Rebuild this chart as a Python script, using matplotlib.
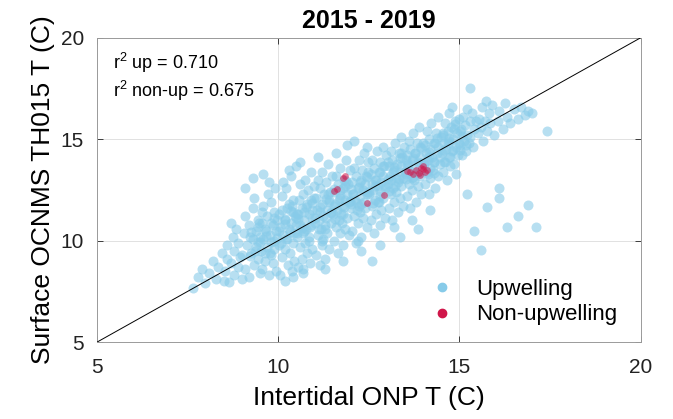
import numpy as np
import matplotlib
matplotlib.use("Agg")
import matplotlib.pyplot as plt
from matplotlib.lines import Line2D

plt.rcParams['font.family'] = ['Liberation Sans', 'DejaVu Sans']
plt.rcParams['mathtext.default'] = 'regular'

# Upwelling days (strips of intertidal T)
up_x = [
    7.66, 7.8, 7.9, 8.0, 8.1, 8.2, 8.3, 8.35, 8.45, 8.5,
    8.55, 8.6, 8.6, 8.65, 8.7, 8.75, 8.8, 8.8, 8.85, 8.9, 8.9, 8.95, 9.0, 8.7,
    9.02, 9.05, 9.1, 9.1, 9.15, 9.2, 9.2, 9.25, 9.3, 9.3, 9.35, 9.35, 9.4, 9.4, 9.45, 9.45, 9.5, 9.5, 9.1, 9.3,
    9.52, 9.55, 9.55, 9.6, 9.6, 9.65, 9.65, 9.7, 9.7, 9.72, 9.75, 9.78, 9.8, 9.8, 9.85, 9.85, 9.88, 9.9, 9.9, 9.92, 9.95, 9.95, 9.98, 9.6, 9.75, 9.55,
    10.02, 10.05, 10.05, 10.1, 10.1, 10.12, 10.15, 10.18, 10.2, 10.2, 10.22, 10.25, 10.28, 10.3, 10.3, 10.32, 10.35, 10.35, 10.38, 10.4, 10.4, 10.42, 10.45, 10.45, 10.48, 10.5, 10.3, 10.15, 10.4, 10.25,
    10.52, 10.55, 10.55, 10.58, 10.6, 10.6, 10.62, 10.65, 10.65, 10.68, 10.7, 10.7, 10.72, 10.75, 10.75, 10.78, 10.8, 10.8, 10.82, 10.85, 10.85, 10.88, 10.9, 10.9, 10.92, 10.95, 10.95, 10.98, 10.6, 10.7, 10.85, 10.5,
    11.02, 11.05, 11.05, 11.08, 11.1, 11.1, 11.12, 11.15, 11.15, 11.18, 11.2, 11.2, 11.22, 11.25, 11.25, 11.28, 11.3, 11.3, 11.32, 11.35, 11.35, 11.38, 11.4, 11.4, 11.42, 11.45, 11.45, 11.48, 11.1, 11.3, 11.2, 11.4,
    11.52, 11.55, 11.55, 11.58, 11.6, 11.6, 11.62, 11.65, 11.65, 11.68, 11.7, 11.7, 11.72, 11.75, 11.75, 11.78, 11.8, 11.8, 11.82, 11.85, 11.85, 11.88, 11.9, 11.9, 11.92, 11.95, 11.95, 11.98, 11.6, 11.8, 11.7, 11.9,
    12.02, 12.05, 12.05, 12.08, 12.1, 12.1, 12.12, 12.15, 12.15, 12.18, 12.2, 12.2, 12.22, 12.25, 12.25, 12.28, 12.3, 12.3, 12.32, 12.35, 12.35, 12.38, 12.4, 12.4, 12.42, 12.45, 12.45, 12.48, 12.1, 12.3, 12.2, 12.45,
    12.52, 12.55, 12.55, 12.58, 12.6, 12.6, 12.62, 12.65, 12.65, 12.68, 12.7, 12.7, 12.72, 12.75, 12.75, 12.78, 12.8, 12.8, 12.82, 12.85, 12.85, 12.88, 12.9, 12.9, 12.92, 12.95, 12.95, 12.98, 12.6, 12.8,
    13.02, 13.05, 13.05, 13.08, 13.1, 13.1, 13.12, 13.15, 13.15, 13.18, 13.2, 13.2, 13.22, 13.25, 13.25, 13.28, 13.3, 13.3, 13.32, 13.35, 13.35, 13.38, 13.4, 13.4, 13.42, 13.45, 13.45, 13.48, 13.2, 13.35,
    13.52, 13.55, 13.55, 13.58, 13.6, 13.6, 13.62, 13.65, 13.65, 13.68, 13.7, 13.7, 13.72, 13.75, 13.75, 13.78, 13.8, 13.8, 13.82, 13.85, 13.85, 13.88, 13.9, 13.9, 13.92, 13.95, 13.7, 13.85,
    14.02, 14.05, 14.05, 14.08, 14.1, 14.1, 14.12, 14.15, 14.15, 14.18, 14.2, 14.2, 14.22, 14.25, 14.28, 14.3, 14.3, 14.32, 14.35, 14.38, 14.4, 14.4, 14.42, 14.45, 14.48, 14.2,
    14.52, 14.55, 14.55, 14.58, 14.6, 14.6, 14.62, 14.65, 14.68, 14.7, 14.7, 14.72, 14.75, 14.78, 14.8, 14.8, 14.82, 14.85, 14.88, 14.9, 14.9, 14.92, 14.95, 14.98,
    15.02, 15.05, 15.08, 15.1, 15.12, 15.15, 15.18, 15.2, 15.22, 15.25, 15.28, 15.3, 15.35, 15.38, 15.4, 15.45, 15.3, 15.4,
    15.52, 15.55, 15.6, 15.62, 15.65, 15.7, 15.72, 15.75, 15.8, 15.85, 15.9, 15.95, 15.6, 15.75,
    16.05, 16.1, 16.2, 16.25, 16.3, 16.4, 16.5, 16.6, 16.7, 16.8, 16.9, 17.0, 17.4, 16.1, 16.1, 16.9, 17.1, 16.6, 16.3, 15.2,
]
up_y = [
    7.7, 8.2, 8.6, 7.9, 8.4, 9.0, 8.1, 8.7, 9.4, 8.0,
    8.5, 9.1, 9.8, 7.95, 8.9, 10.2, 8.3, 9.5, 10.6, 8.7, 9.9, 9.2, 8.1, 10.9,
    9.3, 10.4, 8.6, 11.2, 9.8, 8.2, 10.8, 9.4, 10.1, 11.6, 8.8, 12.1, 9.7, 10.5, 9.1, 11.0, 10.2, 8.4, 12.6, 13.1,
    9.5, 10.9, 8.6, 10.1, 11.7, 9.0, 10.6, 9.7, 11.2, 12.3, 8.3, 10.3, 9.3, 11.9, 10.8, 8.9, 10.0, 11.4, 9.6, 12.6, 10.5, 8.5, 11.0, 13.3, 12.9, 11.4,
    9.8, 10.7, 8.3, 11.5, 9.2, 12.2, 10.3, 8.0, 11.0, 9.6, 12.6, 10.1, 8.8, 11.8, 10.6, 9.4, 10.9, 13.2, 8.5, 11.4, 9.9, 12.0, 10.4, 9.0, 11.2, 13.7, 13.5, 12.9, 8.2, 11.6,
    10.2, 11.3, 8.7, 12.0, 9.7, 10.8, 12.8, 9.1, 11.6, 10.4, 8.4, 12.3, 11.0, 9.9, 13.0, 10.6, 11.8, 9.4, 12.5, 10.2, 11.3, 8.9, 12.0, 10.8, 13.4, 9.6, 11.5, 12.7, 13.9, 8.6, 10.0, 11.1,
    10.9, 12.1, 9.3, 11.5, 10.3, 13.0, 11.0, 8.8, 12.6, 10.6, 11.8, 9.8, 13.4, 11.2, 10.1, 12.3, 10.8, 9.1, 12.9, 11.5, 10.4, 13.8, 11.9, 9.6, 12.4, 10.9, 11.4, 13.2, 14.1, 8.6, 10.0, 12.0,
    11.3, 12.4, 10.0, 11.8, 10.7, 13.2, 11.5, 9.4, 12.8, 11.0, 12.1, 10.4, 13.6, 11.7, 10.9, 12.6, 11.3, 9.8, 13.0, 12.0, 10.6, 14.0, 12.3, 11.1, 12.8, 10.3, 11.9, 13.5, 14.3, 9.0, 12.5, 14.7,
    11.8, 12.9, 10.5, 12.3, 11.2, 13.6, 12.0, 9.9, 13.2, 11.5, 12.6, 10.9, 14.0, 12.2, 11.4, 13.0, 11.8, 10.2, 13.5, 12.5, 11.1, 14.3, 12.8, 11.6, 13.2, 10.7, 12.3, 13.9, 14.9, 9.5, 10.0, 14.6,
    12.3, 13.3, 11.0, 12.8, 11.7, 14.0, 12.5, 10.4, 13.6, 12.0, 13.0, 11.3, 14.4, 12.7, 11.9, 13.4, 12.2, 10.8, 13.9, 12.9, 11.5, 14.6, 13.2, 12.1, 13.7, 11.1, 12.6, 14.2, 9.0, 9.8,
    12.8, 13.7, 11.6, 13.2, 12.3, 14.4, 13.0, 11.0, 14.0, 12.6, 13.5, 11.9, 14.8, 13.1, 12.4, 13.8, 12.9, 11.4, 14.3, 13.4, 12.1, 15.1, 13.7, 12.7, 14.1, 11.7, 13.1, 14.6, 10.7, 10.2,
    13.3, 14.2, 12.2, 13.8, 12.8, 14.9, 13.5, 11.6, 14.5, 13.1, 14.0, 12.5, 15.3, 13.6, 13.0, 14.3, 13.4, 11.9, 14.8, 13.9, 12.7, 15.6, 14.1, 13.2, 14.6, 12.3, 11.0, 10.6,
    13.8, 14.7, 12.8, 14.3, 13.4, 15.4, 14.0, 12.3, 15.0, 13.6, 14.5, 13.1, 15.8, 14.1, 13.5, 14.8, 13.9, 12.6, 15.3, 14.3, 16.1, 13.2, 14.6, 13.8, 15.1, 11.5,
    14.3, 15.2, 13.4, 14.8, 13.9, 15.8, 14.5, 13.0, 15.4, 14.1, 16.3, 14.9, 13.7, 15.6, 14.4, 16.6, 15.0, 13.8, 15.9, 14.6, 13.3, 15.3, 14.2, 16.0,
    14.7, 15.5, 14.2, 16.1, 14.9, 15.7, 14.4, 16.5, 15.2, 14.8, 15.9, 15.1, 16.3, 14.6, 15.5, 15.9, 17.5, 10.5,
    15.3, 16.0, 15.6, 16.6, 14.9, 15.9, 16.9, 15.4, 16.3, 15.8, 16.7, 15.2, 9.55, 11.65,
    15.9, 16.4, 15.5, 16.8, 16.1, 15.8, 16.5, 16.0, 16.6, 16.2, 16.4, 16.3, 15.4, 12.1, 12.6, 11.75, 10.7, 11.2, 10.7, 12.3,
]

# More upwelling days from the dense core of the cloud
core_x = [
    9.22, 9.27, 9.44, 9.49, 9.63, 9.66, 9.81, 9.88, 10.04, 10.07, 10.2, 10.33, 10.38, 10.52, 10.56,
    10.72, 10.77, 10.94, 10.99, 11.13, 11.16, 11.31, 11.38, 11.54, 11.57, 11.7, 11.83, 11.88, 12.02, 12.06,
    12.22, 12.27, 12.44, 12.49, 12.63, 12.66, 12.81, 12.88, 13.04, 13.07, 13.2, 13.33, 13.38, 13.52, 13.56,
    13.72, 13.77, 13.94, 13.99, 14.13, 14.16, 14.31, 14.38, 14.54, 14.57, 14.7, 14.83, 14.88, 15.02, 15.06,
    9.23, 9.38, 9.45, 9.51, 9.67, 9.79, 9.82, 9.96, 10.04, 10.18, 10.23, 10.35, 10.49, 10.52, 10.67,
    10.73, 10.88, 10.95, 11.01, 11.17, 11.29, 11.32, 11.46, 11.54, 11.68, 11.73, 11.85, 11.99, 12.02, 12.17,
    12.23, 12.38, 12.45, 12.51, 12.67, 12.79, 12.82, 12.96, 13.04, 13.18, 13.23, 13.35, 13.49, 13.52, 13.67,
    13.73, 13.88, 13.95, 14.01, 14.17, 14.29, 14.32, 14.46, 14.54, 14.68, 14.73, 14.85, 14.99, 15.02, 15.17,
]
core_y = [
    9.26, 10.44, 9.92, 10.9, 9.38, 10.46, 9.94, 11.12, 10.5, 9.88, 11.06, 10.44, 11.72, 10.4, 11.08,
    10.46, 11.64, 11.12, 12.1, 10.58, 11.66, 11.14, 12.32, 11.7, 11.08, 12.26, 11.64, 12.92, 11.6, 12.3,
    11.69, 12.89, 12.38, 13.38, 11.87, 12.97, 12.46, 13.66, 13.05, 12.45, 13.64, 13.04, 14.33, 13.03, 13.72,
    13.12, 14.31, 13.81, 14.8, 13.3, 14.39, 13.89, 15.08, 14.48, 13.87, 15.07, 14.46, 15.76, 14.45, 15.15,
    10.2, 9.48, 10.66, 9.94, 10.22, 9.4, 10.88, 10.16, 11.34, 10.82, 10.1, 11.48, 10.76, 11.34, 10.62,
    11.4, 10.68, 11.86, 11.14, 11.42, 10.6, 12.08, 11.36, 12.54, 12.02, 11.3, 12.68, 11.96, 12.55, 11.84,
    12.64, 11.93, 13.13, 12.42, 12.72, 11.91, 13.41, 12.7, 13.9, 13.39, 12.69, 14.08, 13.38, 13.97, 13.27,
    14.06, 13.36, 14.55, 13.85, 14.14, 13.34, 14.83, 14.13, 15.32, 14.82, 14.11, 15.51, 14.8, 15.4, 14.69,
]

# Non-upwelling days
non_x = [11.55, 11.62, 11.78, 11.85, 12.45, 12.92, 13.55, 13.65, 13.72, 13.8, 13.88, 13.95, 14.0, 14.05, 14.1, 13.9, 14.0]
non_y = [12.45, 12.55, 13.1, 13.2, 11.85, 12.25, 13.45, 13.4, 13.3, 13.5, 13.35, 13.6, 13.55, 13.4, 13.5, 13.25, 13.7]

r2_up = 0.710
r2_non = 0.675
lims = [5, 20]
ticks = [5, 10, 15, 20]

UP_COLOR = '#87CBE9'
NON_COLOR = '#D0164A'

fig = plt.figure(figsize=(6.73, 4.19), dpi=100)
ax = fig.add_axes([0.1434, 0.1828, 0.809, 0.7275])

ax.scatter(up_x + core_x, up_y + core_y, s=52, color=UP_COLOR, alpha=0.6,
           linewidths=0, zorder=2)
ax.scatter(non_x, non_y, s=24, color=NON_COLOR, alpha=0.55, linewidths=0, zorder=3)
ax.plot(lims, lims, color='black', lw=0.7, zorder=4)

ax.set_xlim(lims)
ax.set_ylim(lims)
ax.set_xticks(ticks)
ax.set_yticks(ticks)
ax.grid(True, color='#DCDCDC', lw=0.6, zorder=0)
ax.set_axisbelow(True)
ax.tick_params(direction='in', length=4, width=0.6, top=True, right=True,
               labelsize=15, colors='#222222')
ax.tick_params(axis='x', pad=11)
ax.tick_params(axis='y', pad=9)
for s in ax.spines.values():
    s.set_color('#9A9A9A')
    s.set_linewidth(0.7)

ax.set_xlabel('Intertidal ONP T (C)', fontsize=19, labelpad=7)
ax.set_ylabel('Surface OCNMS TH015 T (C)', fontsize=19, labelpad=4)
ax.set_title('2015 - 2019', fontsize=18, fontweight='bold', pad=7)

ax.text(0.03, 0.918, f'r$^2$ up = {r2_up:.3f}', transform=ax.transAxes, fontsize=13, va='center')
ax.text(0.03, 0.826, f'r$^2$ non-up = {r2_non:.3f}', transform=ax.transAxes, fontsize=13, va='center')

handles = [
    Line2D([], [], marker='o', ls='none', color=UP_COLOR, markersize=6),
    Line2D([], [], marker='o', ls='none', color=NON_COLOR, markersize=6),
]
ax.legend(handles, ['Upwelling', 'Non-upwelling'], loc='lower right', frameon=False,
          fontsize=16, handletextpad=0.5, labelspacing=0.2, borderaxespad=0.5,
          bbox_to_anchor=(0.9926, -0.0098))

fig.savefig('out.png', dpi=100)
